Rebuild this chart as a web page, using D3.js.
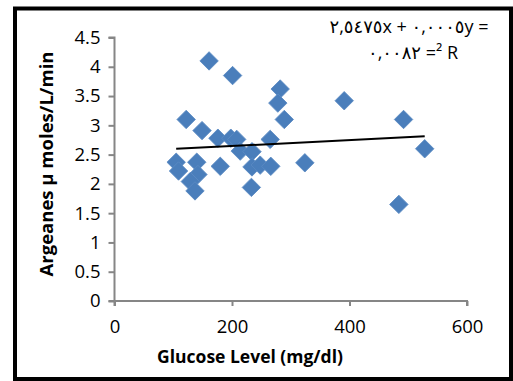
<!DOCTYPE html>
<html>
<head>
<meta charset="utf-8">
<script src="https://cdn.jsdelivr.net/npm/d3@7"></script>
<style>
  html, body { margin: 0; padding: 0; background: #fff; }
  svg { display: block; }
  text { font-family: "Open Sans", "DejaVu Sans", sans-serif; fill: #000; }
</style>
</head>
<body>
<svg id="chart" width="513" height="381"></svg>
<script>
// Glucose level (mg/dl) and arginase activity (µ moles/L/min) per sample
const glucose = [161, 201, 282, 278, 289, 122, 149, 391, 492, 528, 484, 324, 265,
                 176, 198, 208, 214, 234, 180, 234, 248, 266, 233,
                 105, 109, 140, 142, 129, 137];
const arginase = [4.10, 3.85, 3.62, 3.38, 3.10, 3.10, 2.91, 3.42, 3.10, 2.60, 1.65, 2.36, 2.76,
                  2.78, 2.78, 2.76, 2.56, 2.55, 2.30, 2.29, 2.32, 2.30, 1.94,
                  2.37, 2.22, 2.37, 2.16, 2.04, 1.88];

const xTicks = [0, 200, 400, 600];
const yTicks = [0, 0.5, 1, 1.5, 2, 2.5, 3, 3.5, 4, 4.5];

// Linear trendline y = 0.0005x + 2.5475, R² = 0.0082
const trendSlope = 0.0005;
const trendIntercept = 2.5475;
const eqLine1 = "\u0662,\u0665\u0664\u0667\u0665x + \u0660,\u0660\u0660\u0660\u0665y =";
const eqLine2 = "\u0660,\u0660\u0660\u0668\u0662 =\u00b2 R";

const xTitle = "Glucose Level (mg/dl)";
const yTitle = "Argeanes \u03bc moles/L/min";

const svg = d3.select("#chart");

const x = d3.scaleLinear().domain([0, 600]).range([114.5, 467]);
const y = d3.scaleLinear().domain([0, 4.5]).range([301, 37.5]);

const axisColor = "#868686";

// X axis
const gx = svg.append("g")
  .attr("transform", `translate(0,${y(0)})`)
  .call(d3.axisBottom(x).tickValues(xTicks).tickSize(5).tickPadding(14).tickFormat(d3.format("d")));
gx.select(".domain").attr("stroke", axisColor).attr("stroke-width", 2)
  .attr("d", `M${x(0)},5V0H${x(600)}V5`);
gx.selectAll(".tick line").attr("stroke", axisColor).attr("stroke-width", 2);
gx.selectAll(".tick text").attr("font-size", 18.5).attr("font-family", "'Open Sans', sans-serif");

// Y axis
const gy = svg.append("g")
  .attr("transform", `translate(${x(0)},0)`)
  .call(d3.axisLeft(y).tickValues(yTicks).tickSize(6).tickPadding(8).tickFormat(d => String(d)));
gy.select(".domain").attr("stroke", axisColor).attr("stroke-width", 2)
  .attr("d", `M-6,${y(4.5)}H0V${y(0)}H-6`);
gy.selectAll(".tick line").attr("stroke", axisColor).attr("stroke-width", 2);
gy.selectAll(".tick text").attr("font-size", 18.5).attr("font-family", "'Open Sans', sans-serif");

// Points as diamonds
const diamond = d3.symbol().type(d3.symbolSquare).size(170);
svg.append("g").selectAll("path")
  .data(d3.zip(glucose, arginase))
  .join("path")
  .attr("d", diamond)
  .attr("transform", d => `translate(${x(d[0])},${y(d[1])}) rotate(45)`)
  .attr("fill", "#4a7ebb")
  .attr("stroke", "#5b8ac3")
  .attr("stroke-width", 0.8);

// Trendline across the data range
const [xmin, xmax] = d3.extent(glucose);
svg.append("line")
  .attr("x1", x(xmin)).attr("y1", y(trendSlope * xmin + trendIntercept))
  .attr("x2", x(xmax)).attr("y2", y(trendSlope * xmax + trendIntercept))
  .attr("stroke", "#000").attr("stroke-width", 2);

// Trendline equation
const eq = svg.append("g").attr("font-size", 18);
eq.append("text").attr("x", 409).attr("y", 33).attr("text-anchor", "middle")
  .style("direction", "ltr").style("unicode-bidi", "bidi-override").text(eqLine1);
eq.append("text").attr("x", 413).attr("y", 59).attr("text-anchor", "middle")
  .style("direction", "ltr").style("unicode-bidi", "bidi-override").text(eqLine2);

// Axis titles
svg.append("text")
  .attr("x", 250).attr("y", 363).attr("text-anchor", "middle")
  .attr("font-size", 17.5).attr("font-weight", "bold")
  .text(xTitle);
svg.append("text")
  .attr("transform", "translate(53,164) rotate(-90)")
  .attr("text-anchor", "middle")
  .attr("font-size", 18.5).attr("font-weight", "bold")
  .text(yTitle);

// Chart border
svg.append("rect")
  .attr("x", 15).attr("y", 8.5).attr("width", 496).attr("height", 370.5)
  .attr("fill", "none").attr("stroke", "#000").attr("stroke-width", 4);
</script>
</body>
</html>
